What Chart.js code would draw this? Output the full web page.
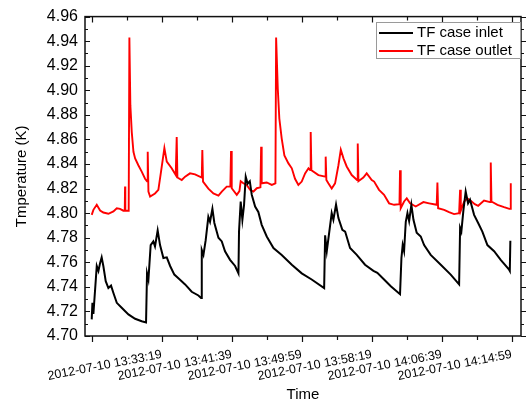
<!DOCTYPE html>
<html>
<head>
<meta charset="utf-8">
<script src="https://cdn.jsdelivr.net/npm/chart.js@4/dist/chart.umd.min.js"></script>
<style>
  html, body { margin: 0; padding: 0; background: #fff; }
  #wrap { width: 526px; height: 406px; }
</style>
</head>
<body>
<div id="wrap"><canvas id="tfCase"></canvas></div>
<script>
// TF case inlet / outlet temperature, 2012-07-10.
// Times are seconds after 13:24:59 (first x tick).

const START_CLOCK = 13 * 3600 + 24 * 60 + 59;
const DATE_PREFIX = '2012-07-10 ';
const X_MIN = -48;
const X_MAX = 3066;
const Y_MIN = 4.70;
const Y_MAX = 4.96;

const SERIES_LABELS = ['TF case inlet', 'TF case outlet'];
const SERIES_COLORS = ['#000000', '#ff0000'];

const inletSec = [
    0, 5, 12, 36, 48, 60, 71, 83, 100, 119, 138, 155, 179, 214, 262, 310, 357, 388,
    395, 405, 421, 440, 452, 471, 488, 512, 536, 560, 590, 619, 667, 714, 762, 781,
    786, 798, 814, 833, 845, 862, 876, 905, 929, 952, 988, 1024, 1048,
    1052, 1064, 1076, 1088, 1100, 1114, 1129, 1143, 1167, 1190, 1214, 1250, 1298, 1357, 1429, 1500, 1571, 1660,
    1667, 1679, 1714, 1726, 1745, 1762, 1790, 1810, 1845, 1893, 1952, 2012, 2040, 2088, 2136, 2202,
    2212, 2221, 2231, 2243, 2255, 2267, 2283, 2298, 2321, 2350, 2374, 2421, 2493, 2564, 2624,
    2631, 2640, 2655, 2671, 2688, 2702, 2731, 2760, 2790, 2826, 2874, 2921, 2981, 2986, 2990
];
const inletK = [
    4.7135, 4.727, 4.718, 4.757, 4.753, 4.7595, 4.764, 4.757, 4.7446, 4.739, 4.741, 4.735, 4.727, 4.723, 4.7176, 4.714, 4.712, 4.711,
    4.751, 4.746, 4.774, 4.777, 4.773, 4.786, 4.774, 4.7635, 4.764, 4.757, 4.750, 4.747, 4.742, 4.736, 4.733, 4.731,
    4.770, 4.766, 4.778, 4.797, 4.793, 4.8035, 4.792, 4.780, 4.777, 4.769, 4.762, 4.757, 4.751,
    4.785, 4.8095, 4.7946, 4.8068, 4.8297, 4.824, 4.826, 4.815, 4.8054, 4.801, 4.7905, 4.781, 4.7716, 4.766, 4.758, 4.751, 4.746, 4.739,
    4.782, 4.769, 4.800, 4.7946, 4.807, 4.796, 4.7865, 4.785, 4.7716, 4.766, 4.758, 4.753, 4.7514, 4.746, 4.7405, 4.734,
    4.7635, 4.774, 4.769, 4.793, 4.800, 4.7935, 4.8068, 4.7946, 4.784, 4.781, 4.774, 4.766, 4.758, 4.750, 4.742,
    4.788, 4.785, 4.8027, 4.8176, 4.808, 4.811, 4.7986, 4.792, 4.785, 4.774, 4.769, 4.762, 4.754, 4.753, 4.7776
];

const outletSec = [
    0, 12, 36, 60, 83, 119, 155, 179, 202, 226, 236, 238, 240, 257, 264, 269, 276, 286, 298, 310, 333, 357, 381,
    395, 400, 405, 417, 452, 476, 495, 519, 536, 571, 600, 607, 612, 643, 667, 702, 738, 786, 790, 795,
    833, 869, 905, 929, 964, 990, 995, 1000, 1036, 1055, 1064, 1083, 1107, 1131, 1155, 1179, 1205, 1210, 1214,
    1250, 1286, 1312, 1317, 1329, 1340, 1357, 1376, 1405, 1429, 1452, 1476, 1500, 1524, 1548, 1560, 1564, 1569,
    1619, 1667, 1671, 1676, 1690, 1714, 1738, 1762, 1779, 1798, 1821, 1857, 1895, 1900, 1905, 1940, 1964, 2000,
    2017, 2052, 2088, 2124, 2160, 2198, 2202, 2207, 2231, 2250, 2274, 2314, 2369, 2410, 2464, 2469, 2474,
    2517, 2552, 2588, 2624, 2631, 2636, 2660, 2683, 2707, 2736, 2760, 2802, 2845, 2850, 2855, 2898, 2945, 2983, 2990, 2993
];
const outletK = [
    4.7986, 4.8027, 4.8068, 4.8022, 4.8005, 4.7995, 4.8014, 4.804, 4.8035, 4.802, 4.802, 4.8216, 4.802, 4.802, 4.802, 4.943, 4.8877, 4.866, 4.850, 4.8446, 4.839, 4.8338, 4.828,
    4.826, 4.850, 4.8176, 4.8135, 4.816, 4.819, 4.8338, 4.853, 4.842, 4.8365, 4.831, 4.862, 4.829, 4.827, 4.8297, 4.8324, 4.8316, 4.829, 4.8513, 4.8257,
    4.820, 4.816, 4.8143, 4.8176, 4.8216, 4.8216, 4.8505, 4.8203, 4.8149, 4.818, 4.826, 4.8243, 4.823, 4.819, 4.8176, 4.8203, 4.821, 4.854, 4.8243,
    4.825, 4.823, 4.8243, 4.943, 4.901, 4.877, 4.8607, 4.847, 4.8405, 4.8365, 4.828, 4.823, 4.8257, 4.8324, 4.8365, 4.835, 4.866, 4.835,
    4.831, 4.8297, 4.846, 4.827, 4.8243, 4.820, 4.8243, 4.839, 4.8516, 4.8446, 4.838, 4.831, 4.827, 4.8567, 4.826, 4.829, 4.8324, 4.827,
    4.8257, 4.819, 4.8149, 4.808, 4.8068, 4.8073, 4.835, 4.804, 4.8095, 4.812, 4.808, 4.8054, 4.809, 4.808, 4.8068, 4.825, 4.804,
    4.8027, 4.8008, 4.7992, 4.800, 4.819, 4.802, 4.8095, 4.812, 4.810, 4.8073, 4.806, 4.8103, 4.809, 4.8413, 4.8095, 4.8068, 4.8049, 4.8035, 4.8035, 4.8243
];

function pad2(n) { return String(n).padStart(2, '0'); }

function clockLabel(sec) {
    const t = START_CLOCK + sec;
    const h = Math.floor(t / 3600);
    const m = Math.floor((t % 3600) / 60);
    const s = t % 60;
    return DATE_PREFIX + pad2(h) + ':' + pad2(m) + ':' + pad2(s);
}

function toPoints(xs, ys) {
    return xs.map((x, i) => ({ x: x, y: ys[i] }));
}

// frame + tick marks Origin-style: left/top inward, bottom/right outward
const framePlugin = {
    id: 'frame',
    afterDatasetsDraw(chart) {
        const { ctx, chartArea: a, scales } = chart;
        const x = scales.x, y = scales.y;
        ctx.save();
        ctx.strokeStyle = '#111';
        ctx.lineWidth = 1.5;
        ctx.strokeRect(a.left, a.top, a.right - a.left, a.bottom - a.top);
        ctx.lineWidth = 1.2;
        ctx.beginPath();
        y.ticks.forEach(t => {
            const py = Math.round(y.getPixelForValue(t.value)) + 0.5;
            const len = t.label !== '' ? 5 : 3;
            ctx.moveTo(a.left, py); ctx.lineTo(a.left + len, py);
            ctx.moveTo(a.right, py); ctx.lineTo(a.right + len, py);
        });
        x.ticks.forEach(t => {
            const px = Math.round(x.getPixelForValue(t.value)) + 0.5;
            const len = t.value % 500 === 0 ? 6 : 4;
            ctx.moveTo(px, a.bottom); ctx.lineTo(px, a.bottom + len);
            ctx.moveTo(px, a.top); ctx.lineTo(px, a.top + len);
        });
        ctx.stroke();
        ctx.restore();
    }
};

const legendPlugin = {
    id: 'boxLegend',
    afterDraw(chart) {
        const { ctx, chartArea: a } = chart;
        const boxW = 145, boxH = 37;
        const left = a.right - boxW, top = 22;
        ctx.save();
        ctx.fillStyle = '#fff';
        ctx.fillRect(left, top, boxW, boxH);
        ctx.strokeStyle = '#9a9a9a';
        ctx.lineWidth = 1;
        ctx.strokeRect(left + 0.5, top + 0.5, boxW - 1, boxH - 1);
        ctx.font = '15px "Liberation Sans", Arial, sans-serif';
        ctx.textBaseline = 'middle';
        chart.data.datasets.forEach((ds, i) => {
            const ly = top + 11 + i * 18;
            ctx.strokeStyle = ds.borderColor;
            ctx.lineWidth = 2;
            ctx.beginPath();
            ctx.moveTo(left + 3, ly); ctx.lineTo(left + 37, ly);
            ctx.stroke();
            ctx.fillStyle = '#000';
            ctx.fillText(ds.label, left + 41, ly);
        });
        ctx.restore();
    }
};

Chart.defaults.font.family = '"Liberation Sans", Arial, sans-serif';
Chart.defaults.color = '#000';

new Chart(document.getElementById('tfCase'), {
    type: 'line',
    data: {
        datasets: [
            {
                label: SERIES_LABELS[0],
                data: toPoints(inletSec, inletK),
                borderColor: SERIES_COLORS[0],
                borderWidth: 2
            },
            {
                label: SERIES_LABELS[1],
                data: toPoints(outletSec, outletK),
                borderColor: SERIES_COLORS[1],
                borderWidth: 1.9
            }
        ]
    },
    options: {
        responsive: true,
        maintainAspectRatio: false,
        animation: false,
        layout: { padding: { top: 14, right: 5, left: 0, bottom: 0 } },
        elements: { point: { radius: 0 }, line: { tension: 0 } },
        plugins: { legend: { display: false }, tooltip: { enabled: false } },
        scales: {
            x: {
                type: 'linear',
                min: X_MIN,
                max: X_MAX,
                grid: { display: false, drawTicks: false },
                border: { display: false },
                afterFit: s => { s.height = 70; },
                ticks: {
                    stepSize: 250,
                    includeBounds: false,
                    autoSkip: false,
                    minRotation: 11,
                    maxRotation: 11,
                    padding: 11,
                    font: { size: 12.5 },
                    callback: v => (v > 0 && v % 500 === 0) ? clockLabel(v) : ''
                },
                title: { display: true, text: 'Time', font: { size: 15 }, padding: { top: 0, bottom: 2 } }
            },
            y: {
                min: Y_MIN,
                max: Y_MAX,
                grid: { display: false, drawTicks: false },
                border: { display: false },
                afterFit: s => { s.width = 85; },
                ticks: {
                    stepSize: 0.01,
                    autoSkip: false,
                    padding: 7,
                    font: { size: 16 },
                    callback: v => Math.round(v * 100) % 2 === 0 ? v.toFixed(2) : ''
                },
                title: { display: true, text: 'Tmperature (K)', font: { size: 15 }, padding: { top: 13, bottom: 0 } }
            }
        }
    },
    plugins: [framePlugin, legendPlugin]
});
</script>
</body>
</html>
